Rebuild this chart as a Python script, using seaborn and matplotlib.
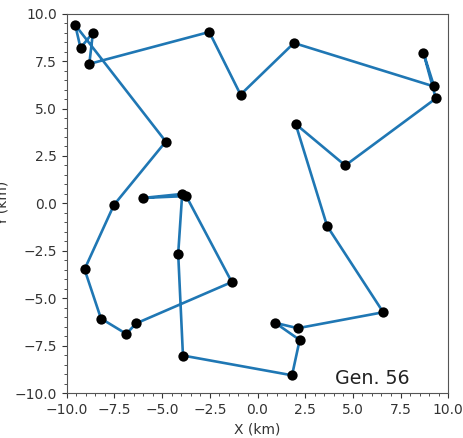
import numpy as np
import pandas as pd
import seaborn as sns
import matplotlib.pyplot as plt
from matplotlib.ticker import MultipleLocator

# city coordinates (km) in tour order for the best route of generation 56
route_x = [-9.56, -9.28, -8.63, -8.82, -2.53, -0.89, 1.91, 9.26, 8.70, 9.35,
           4.60, 2.00, 3.65, 6.59, 2.11, 0.93, 2.21, 1.81, -3.91, -4.16,
           -3.95, -6.00, -3.74, -1.35, -6.37, -6.88, -8.21, -9.07, -7.53, -4.81]
route_y = [9.40, 8.19, 9.00, 7.35, 9.03, 5.73, 8.45, 6.16, 7.93, 5.53,
           2.00, 4.18, -1.19, -5.73, -6.57, -6.29, -7.19, -9.05, -8.01, -2.65,
           0.50, 0.29, 0.39, -4.14, -6.32, -6.87, -6.06, -3.47, -0.08, 3.26]
generation = 56

df = pd.DataFrame({'x': route_x, 'y': route_y})
# close the tour back to the starting city
tour = pd.concat([df, df.iloc[:1]], ignore_index=True)

fig = plt.figure(figsize=(4.64, 4.38), dpi=100)
ax = fig.add_axes([0.144, 0.102, 0.822, 0.867])

sns.lineplot(data=tour, x='x', y='y', sort=False, estimator=None,
             color='#1f77b4', linewidth=1.9, ax=ax, zorder=2)
sns.scatterplot(data=df, x='x', y='y', color='black', s=55,
                edgecolor='black', linewidth=0, ax=ax, zorder=3)

ax.set_xlim(-10, 10)
ax.set_ylim(-10, 10)
ax.xaxis.set_major_locator(MultipleLocator(2.5))
ax.yaxis.set_major_locator(MultipleLocator(2.5))
ax.xaxis.set_minor_locator(MultipleLocator(0.5))
ax.yaxis.set_minor_locator(MultipleLocator(0.5))
ax.tick_params(labelsize=10, colors='#333333')
ax.tick_params(which='minor', length=2.5, colors='#333333')

for sp in ax.spines.values():
    sp.set_color('#555555')

ax.set_xlabel('X (km)', fontsize=10, color='#333333')
ax.set_ylabel('Y (km)', fontsize=10, color='#333333')
ax.yaxis.set_label_coords(-0.15, 0.5)

ax.text(0.9, 0.015, f'Gen. {generation}', transform=ax.transAxes,
        ha='right', va='bottom', fontsize=13.7, color='#222222')

fig.savefig('out.png', dpi=100)
